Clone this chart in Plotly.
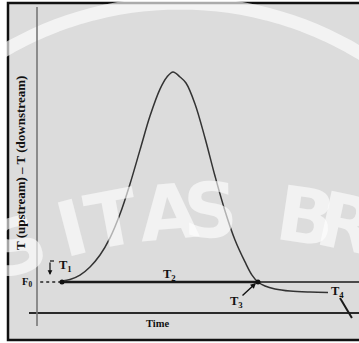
import math
import plotly.graph_objects as go

# ---- data (time units, temperature-difference units; F0 baseline = 0, peak = 1)
time = [0.776, 1.025, 1.335, 1.646, 1.957, 2.267, 2.578, 2.888, 3.199, 3.509,
        3.820, 4.037, 4.224, 4.441, 4.627, 4.907, 5.217, 5.528, 5.839, 6.149,
        6.460, 6.677, 6.863, 7.081, 7.391, 7.857, 8.478, 9.037]
dT = [0.005, 0.012, 0.033, 0.072, 0.129, 0.211, 0.325, 0.469, 0.632, 0.794,
      0.923, 0.981, 1.005, 0.981, 0.952, 0.852, 0.689, 0.507, 0.340, 0.201,
      0.096, 0.033, 0.0, -0.019, -0.033, -0.043, -0.048, -0.050]
t4_time = [9.41, 9.78]
t4_dT = [-0.077, -0.172]
t_start, t_cross, t_end = 0.776, 6.863, 10.0
axis_dT = -0.148
labels = {"T1": (0.90, 0.075), "T2": (4.13, 0.035), "T3": (6.18, -0.096),
          "T4": (9.32, -0.048), "F0": (-0.30, 0.0)}
watermark_letters = ["S", "I", "T", "A", "S", "B", "R"]
watermark_x = [17, 72, 112, 168, 210, 306, 347]

W, H = 359, 343
XR = [-37 / 32.2, 10.0]
YR = [(282 - 343) / 209, 282 / 209]

def px(x):
    return (x - 37) / 32.2

def py(y):
    return (282 - y) / 209

fig = go.Figure()
fig.add_trace(go.Scatter(x=[0.1, t_start], y=[0, 0], mode="lines",
                         line=dict(color="#222", width=1.5, dash="dot")))
fig.add_trace(go.Scatter(x=[t_start, t_cross], y=[0, 0], mode="lines",
                         line=dict(color="#1a1a1a", width=2.6)))
fig.add_trace(go.Scatter(x=[t_cross, t_end], y=[0, 0], mode="lines",
                         line=dict(color="#1a1a1a", width=1.6)))
fig.add_trace(go.Scatter(x=[px(29), t_end], y=[axis_dT, axis_dT], mode="lines",
                         line=dict(color="#2a2a2a", width=2)))
fig.add_trace(go.Scatter(x=[0, 0], y=[py(7), py(326)], mode="lines",
                         line=dict(color="#777", width=1.6)))
fig.add_trace(go.Scatter(x=time, y=dT, mode="lines",
                         line=dict(color="#333", width=1.5, shape="spline")))
fig.add_trace(go.Scatter(x=t4_time, y=t4_dT, mode="lines",
                         line=dict(color="#1a1a1a", width=2)))
fig.add_trace(go.Scatter(x=[t_start, t_cross], y=[0, 0], mode="markers",
                         marker=dict(color="#111", size=5)))

serif = "Liberation Serif"
ann = []

# watermark letters on an arc (center (220, 800) px, letter-centre radius 590)
cx, cy, r = 220, 800, 590
for ch, wx in zip(watermark_letters, watermark_x):
    dx = wx - cx
    wy = cy - math.sqrt(r * r - dx * dx)
    ang = math.degrees(math.atan2(dx, cy - wy))
    ann.append(dict(x=wx / W, y=1 - wy / H, xref="paper", yref="paper", text="<b>%s</b>" % ch,
                    showarrow=False, textangle=ang, xanchor="center", yanchor="middle",
                    font=dict(family="DejaVu Sans", size=76, color="rgba(255,255,255,0.62)")))

def lab(text, xy, size=12.5):
    ann.append(dict(x=xy[0], y=xy[1], text=text, showarrow=False, xref="x", yref="y",
                    font=dict(family=serif, size=size, color="#111")))

lab("<b>T<sub>1</sub></b>", labels["T1"])
lab("<b>T<sub>2</sub></b>", labels["T2"])
lab("<b>T<sub>3</sub></b>", labels["T3"])
lab("<b>T<sub>4</sub></b>", labels["T4"])
lab("<b>F<sub>0</sub></b>", labels["F0"], size=10.5)
ann.append(dict(x=px(157), y=py(323), text="<b>Time</b>", showarrow=False,
                font=dict(family=serif, size=10.5, color="#111")))
ann.append(dict(x=px(20), y=py(163), text="<b>T (upstream) – T (downstream)</b>",
                textangle=-90, showarrow=False,
                font=dict(family=serif, size=13, color="#111")))
ann.append(dict(x=px(50), y=py(275), ax=px(50), ay=py(261), axref="x", ayref="y",
                xref="x", yref="y", text="", showarrow=True, arrowhead=2,
                arrowsize=0.8, arrowwidth=1.2, arrowcolor="#111"))
ann.append(dict(x=px(256), y=py(283), ax=px(241), ay=py(297), axref="x", ayref="y",
                xref="x", yref="y", text="", showarrow=True, arrowhead=2,
                arrowsize=0.8, arrowwidth=1.4, arrowcolor="#111"))

# white ring of the watermark seal (center (180, 352) px, radius 349)
rc_x, rc_y, rr = 180, 352, 349
pts = []
for i in range(0, 61):
    a = math.radians(-62 + i * 124 / 60)
    x = rc_x + rr * math.sin(a)
    y = rc_y - rr * math.cos(a)
    pts.append("%.4f,%.4f" % (x / W, 1 - y / H))
ring_path = "M " + " L ".join(pts)

shapes = [
    dict(type="rect", xref="paper", yref="paper", x0=8 / W, x1=1.02,
         y0=1 - 340 / H, y1=1 - 3 / H, fillcolor="#dcdcdc",
         line=dict(color="#111", width=2.5), layer="below"),
    dict(type="path", xref="paper", yref="paper", path=ring_path, layer="below",
         line=dict(color="rgba(255,255,255,0.65)", width=13)),
    dict(type="line", xref="x", yref="y", x0=px(50), x1=px(54), y0=py(261), y1=py(261),
         line=dict(color="#111", width=1.2)),
]

fig.update_layout(
    width=W, height=H, margin=dict(l=0, r=0, t=0, b=0),
    paper_bgcolor="white", plot_bgcolor="rgba(0,0,0,0)", showlegend=False,
    xaxis=dict(range=XR, visible=False, fixedrange=True),
    yaxis=dict(range=YR, visible=False, fixedrange=True),
    annotations=ann, shapes=shapes,
)
fig.write_html("out.html", config={"displayModeBar": False},
               post_script="document.body.style.margin='0';document.body.style.overflow='hidden';")
